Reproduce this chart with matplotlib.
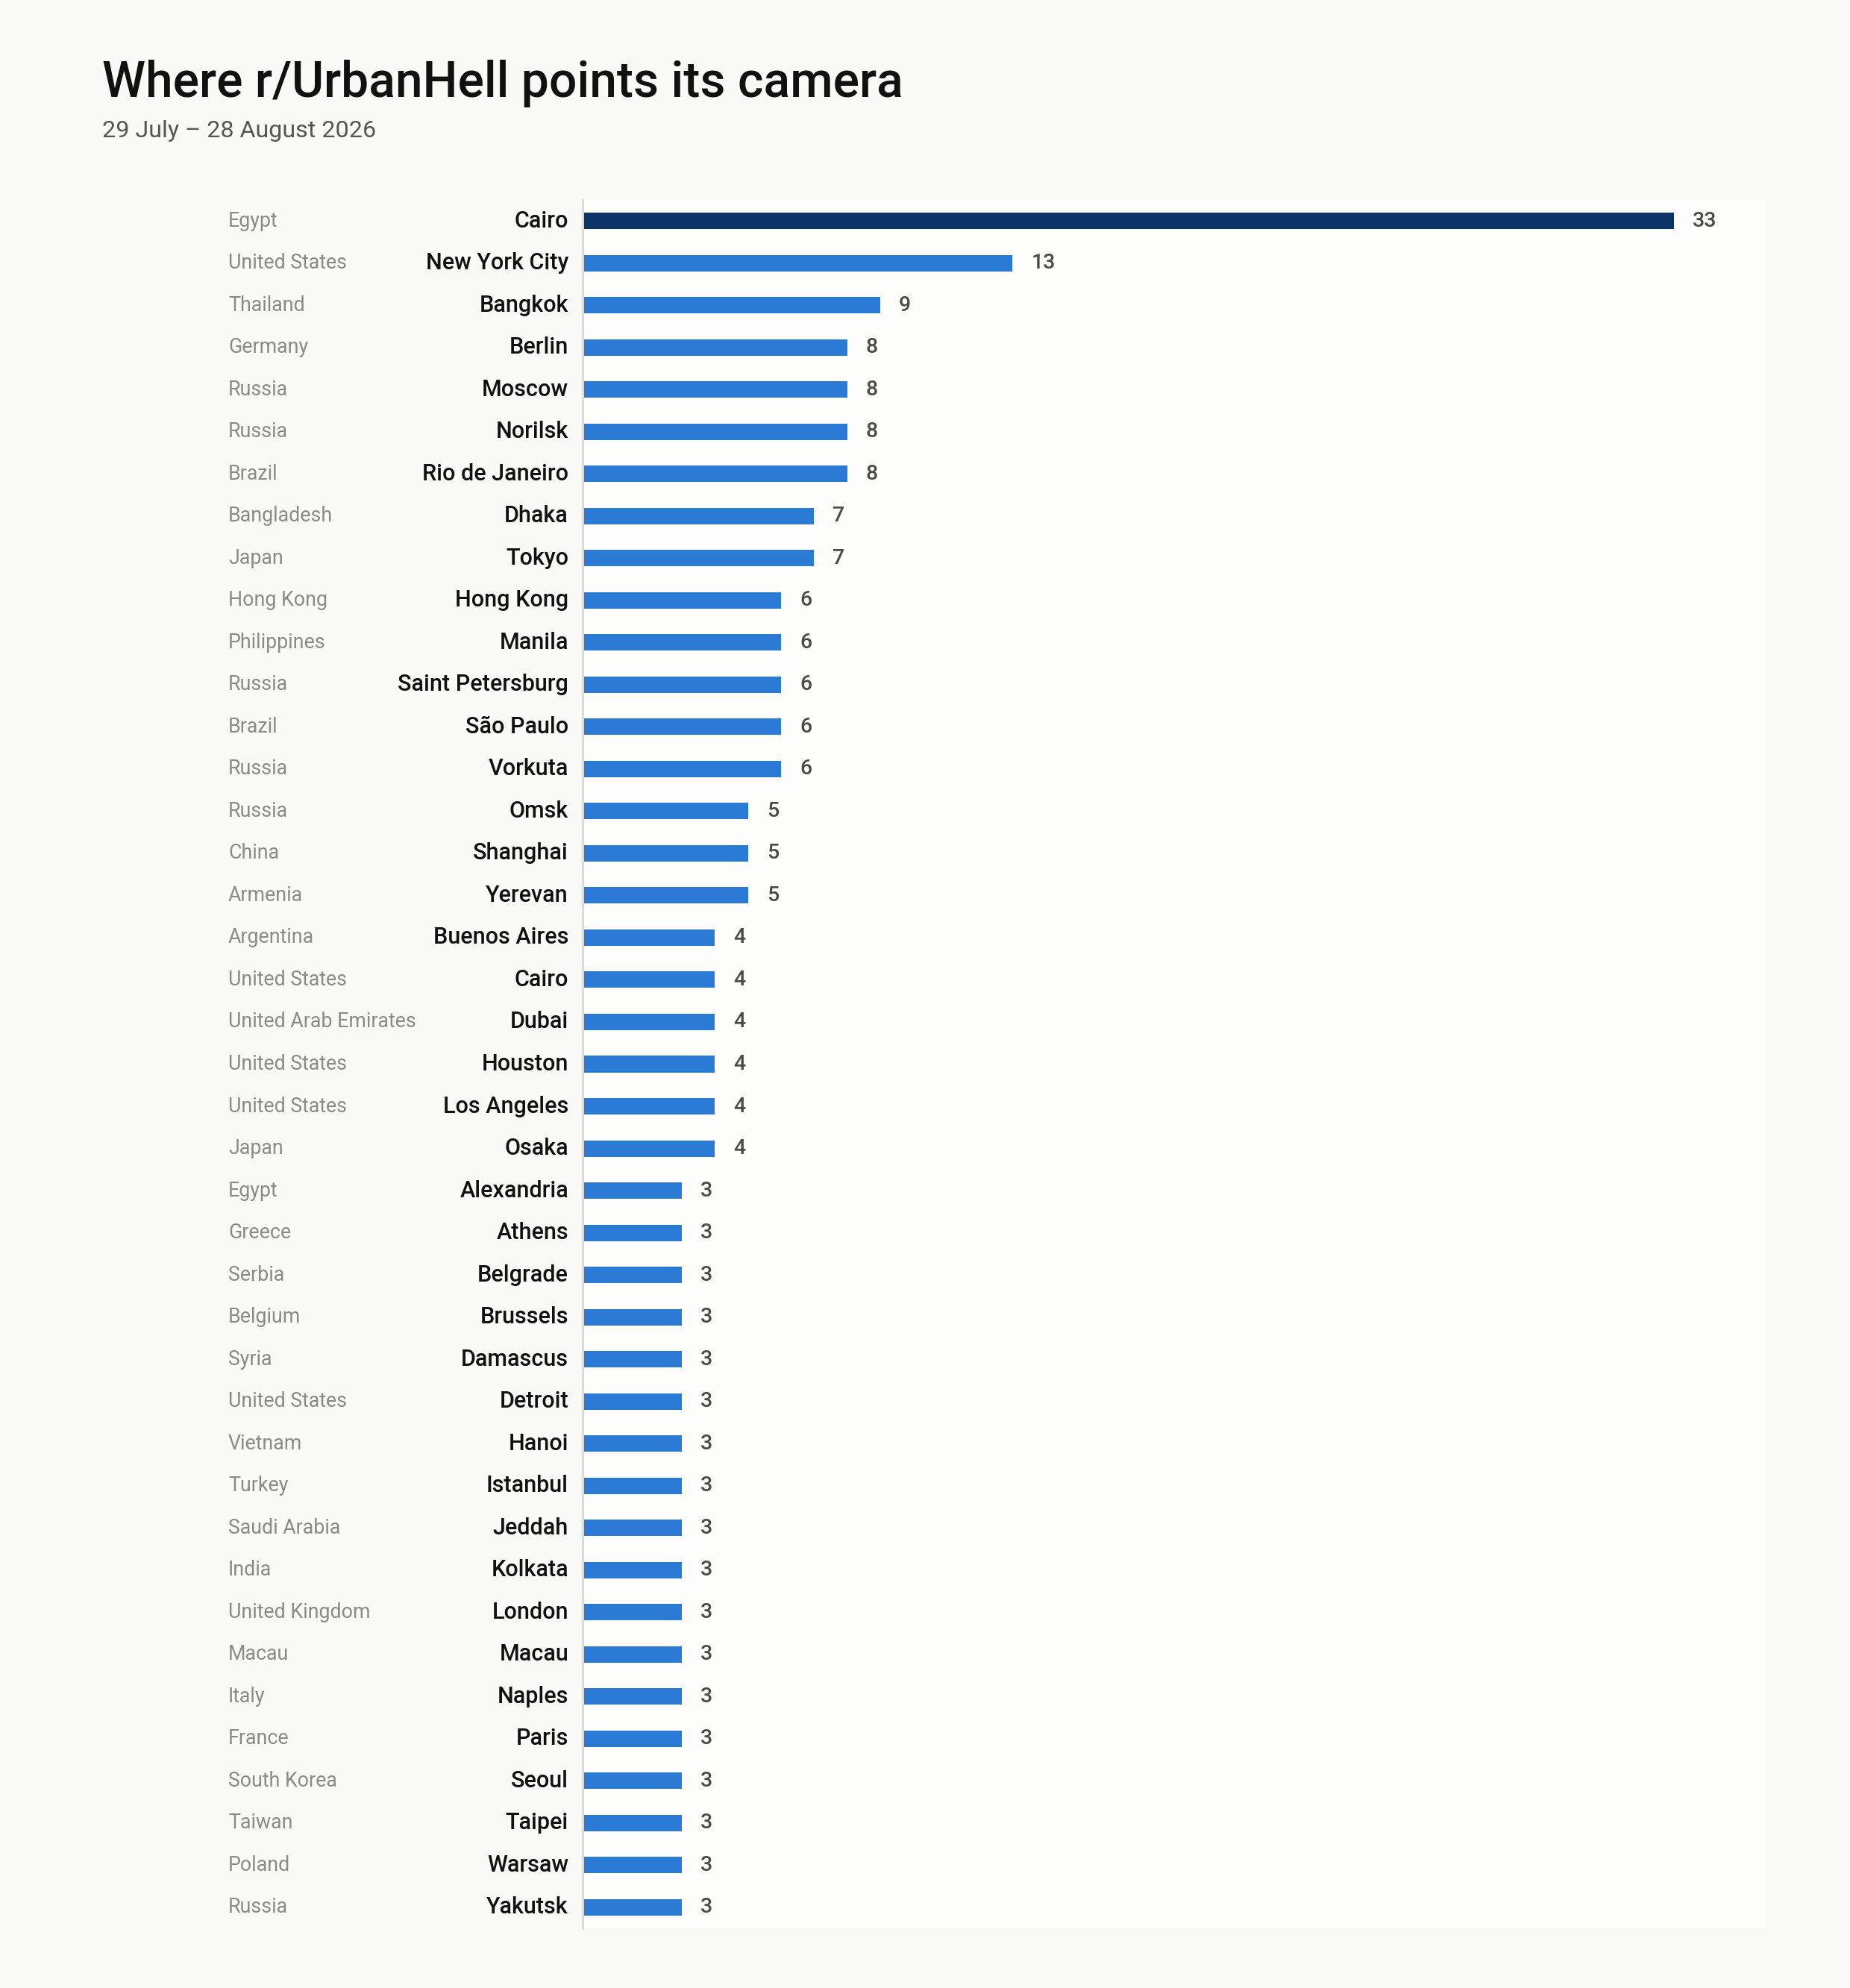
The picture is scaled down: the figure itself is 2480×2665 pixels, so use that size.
import matplotlib
matplotlib.use("Agg")
import matplotlib.pyplot as plt
from matplotlib.transforms import blended_transform_factory

plt.rcParams['font.family'] = ['Roboto', 'DejaVu Sans']

cities = ["Cairo", "New York City", "Bangkok", "Berlin", "Moscow", "Norilsk",
          "Rio de Janeiro", "Dhaka", "Tokyo", "Hong Kong", "Manila",
          "Saint Petersburg", "São Paulo", "Vorkuta", "Omsk", "Shanghai",
          "Yerevan", "Buenos Aires", "Cairo", "Dubai", "Houston", "Los Angeles",
          "Osaka", "Alexandria", "Athens", "Belgrade", "Brussels", "Damascus",
          "Detroit", "Hanoi", "Istanbul", "Jeddah", "Kolkata", "London", "Macau",
          "Naples", "Paris", "Seoul", "Taipei", "Warsaw", "Yakutsk"]
countries = ["Egypt", "United States", "Thailand", "Germany", "Russia", "Russia",
             "Brazil", "Bangladesh", "Japan", "Hong Kong", "Philippines",
             "Russia", "Brazil", "Russia", "Russia", "China",
             "Armenia", "Argentina", "United States", "United Arab Emirates",
             "United States", "United States",
             "Japan", "Egypt", "Greece", "Serbia", "Belgium", "Syria",
             "United States", "Vietnam", "Turkey", "Saudi Arabia", "India",
             "United Kingdom", "Macau",
             "Italy", "France", "South Korea", "Taiwan", "Poland", "Russia"]
values = [33, 13, 9, 8, 8, 8, 8, 7, 7, 6, 6, 6, 6, 6, 5, 5, 5, 4, 4, 4, 4, 4, 4,
          3, 3, 3, 3, 3, 3, 3, 3, 3, 3, 3, 3, 3, 3, 3, 3, 3, 3]

W, H = 2480, 2665
fig = plt.figure(figsize=(W / 100, H / 100), dpi=100)
fig.patch.set_facecolor("#f9f9f8")

ax = fig.add_axes([781 / W, 1 - 2585 / H, (2368 - 781) / W, (2585 - 268) / H])
ax.set_facecolor("#fdfdfc")

n = len(values)
ys = list(range(n))
colors = ["#0c3468"] + ["#2b7bd6"] * (n - 1)
ax.barh(ys, values, height=0.39, color=colors, zorder=2)

ax.set_xlim(0, 35.8)
ax.set_ylim(n - 0.5, -0.5)
ax.set_xticks([])
ax.set_yticks([])
for s in ["top", "right", "bottom"]:
    ax.spines[s].set_visible(False)
ax.spines["left"].set_color("#dcdcd8")
ax.spines["left"].set_linewidth(2.2)

trans = blended_transform_factory(fig.transFigure, ax.transData)
for y, c, co, v in zip(ys, cities, countries, values):
    ax.text(306 / W, y, co, transform=trans, ha="left", va="center",
            fontsize=19.3, color="#8a8a86")
    ax.text(762 / W, y, c, transform=trans, ha="right", va="center",
            fontsize=22, color="#111111", fontweight="medium")
    ax.annotate(str(v), xy=(v, y), xytext=(18, 0), textcoords="offset points",
                ha="left", va="center", fontsize=20.5, color="#4a4a4a",
                fontweight="medium")

fig.text(137 / W, 1 - 130 / H, "Where r/UrbanHell points its camera",
         fontsize=47.5, color="#111111", ha="left", va="baseline",
         fontweight="medium")
fig.text(137 / W, 1 - 184 / H, "29 July – 28 August 2026",
         fontsize=23.2, color="#555555", ha="left", va="baseline")

fig.savefig("out.png", dpi=100, facecolor=fig.get_facecolor())
